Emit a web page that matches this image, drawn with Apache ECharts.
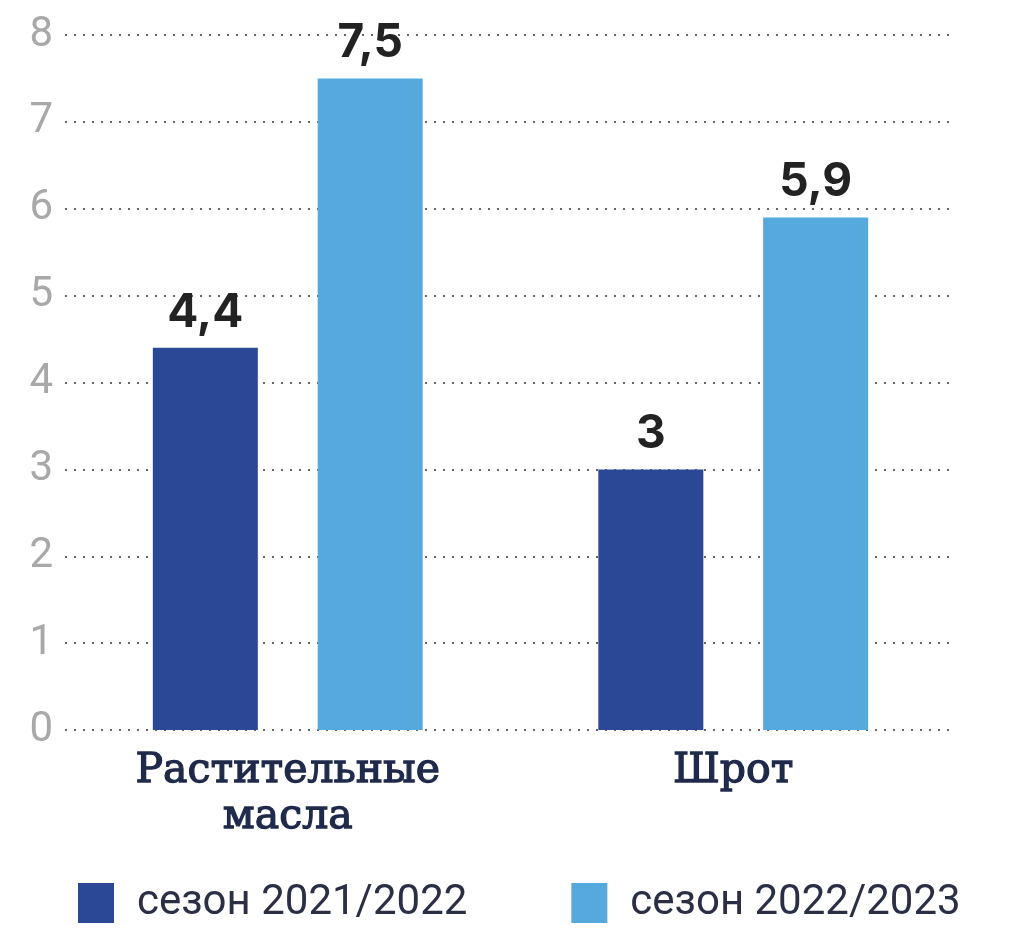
<!DOCTYPE html>
<html>
<head>
<meta charset="utf-8">
<script src="https://cdn.jsdelivr.net/npm/echarts@6/dist/echarts.min.js"></script>
<style>
  html, body { margin: 0; padding: 0; background: #fff; }
  #chart { width: 1024px; height: 937px; }
</style>
</head>
<body>
<div id="chart"></div>
<script>
const categories = ['Растительные\nмасла', 'Шрот'];
const season1 = [4.4, 3];
const season2 = [7.5, 5.9];
const seriesNames = ['сезон 2021/2022', 'сезон 2022/2023'];

const myChart = echarts.init(document.getElementById('chart'));

const commaLabel = function (p) {
  return String(p.value).replace('.', ',');
};

const valueLabel = {
  show: true,
  position: 'top',
  distance: 12,
  color: '#222',
  fontFamily: 'Inter',
  fontWeight: 'bold',
  fontSize: 46,
  formatter: commaLabel
};

myChart.setOption({
  animation: false,
  color: ['#2b4896', '#55a9dd'],
  grid: {
    left: 65,
    right: 68,
    top: 35,
    bottom: 207
  },
  legend: {
    bottom: 8,
    left: 73,
    itemWidth: 36,
    itemHeight: 40,
    itemGap: 104,
    icon: 'rect',
    textStyle: {
      fontFamily: 'Roboto',
      fontSize: 42,
      color: '#2a2f45',
      padding: [0, 0, 0, 18]
    },
    data: seriesNames
  },
  xAxis: {
    type: 'category',
    data: categories,
    axisLine: { show: false },
    axisTick: { show: false },
    axisLabel: {
      margin: 18,
      fontFamily: 'DejaVu Serif',
      fontSize: 41,
      lineHeight: 46,
      color: '#1f2a4a',
      textBorderColor: '#1f2a4a',
      textBorderWidth: 1.3
    }
  },
  yAxis: {
    type: 'value',
    min: 0,
    max: 8,
    interval: 1,
    axisLabel: {
      margin: 12,
      fontFamily: 'Roboto',
      fontSize: 42,
      color: '#a8a8a8'
    },
    splitLine: {
      lineStyle: { type: [2, 7], color: '#666', width: 2 }
    }
  },
  series: [
    {
      name: seriesNames[0],
      type: 'bar',
      barWidth: 105,
      barGap: '57%',
      data: season1,
      label: valueLabel
    },
    {
      name: seriesNames[1],
      type: 'bar',
      barWidth: 105,
      data: season2,
      label: valueLabel
    }
  ]
});
</script>
</body>
</html>
